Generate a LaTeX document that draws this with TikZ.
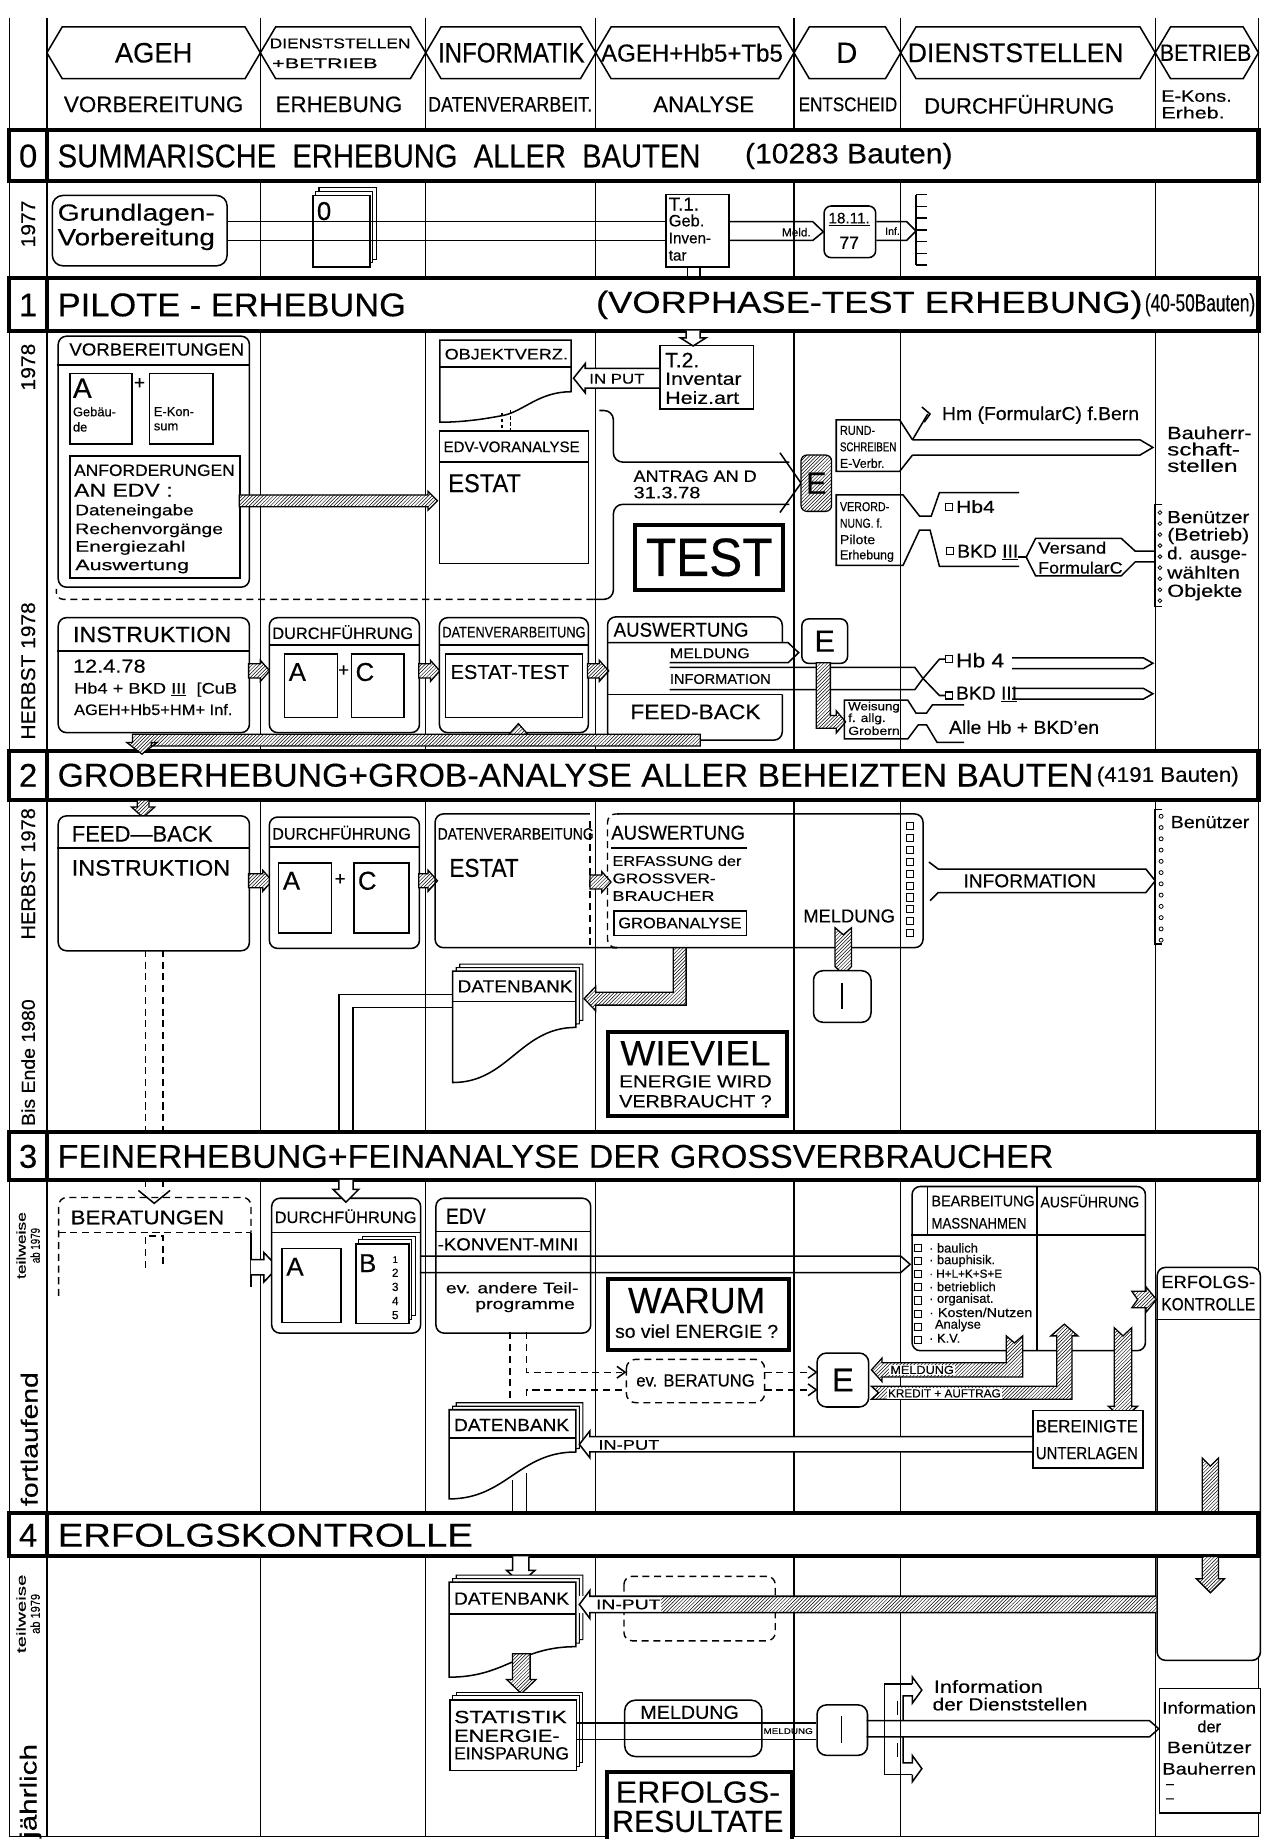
\documentclass[tikz,border=0pt]{standalone}
\usepackage{fontspec}
\setmainfont[FakeBold=0.35]{Liberation Sans}
\usepackage{graphicx}
\usetikzlibrary{patterns,calc}
\newcommand\fs[1]{\fontsize{#1}{#1}\selectfont}
\newcommand\fw[2]{\resizebox{#1pt}{\height}{#2}}
\newcommand\bx[6][box]{\node[#1,minimum width={#4-#2},minimum height={#5-#3}] (#6) at (#2,#3) {};}
\newcommand\stk[5]{%
  \draw[line width=0.9pt,fill=white] ({#1+6},{#2-6}) rectangle ({#3+6},{#4-6});
  \draw[line width=0.9pt,fill=white] ({#1+3},{#2-3}) rectangle ({#3+3},{#4-3});
  \bx{#1}{#2}{#3}{#4}{#5}}
\newcommand\dbk[6]{%
  \foreach \q in {6,3}{\draw[line width=0.9pt,fill=white] ({#1+\q},{#2-\q}) -- ({#3+\q},{#2-\q}) -- ({#3+\q},{#4-\q}) .. controls ({#3-0.45*(#3-#1)+\q},{#4-\q}) and ({#1+0.45*(#3-#1)+\q},{#5-\q}) .. ({#1+\q},{#5-\q}) -- cycle;}
  \draw[line width=1.3pt,fill=white] (#1,#2) -- (#3,#2) -- (#3,#4) .. controls ({#3-0.45*(#3-#1)},#4) and ({#1+0.45*(#3-#1)},#5) .. (#1,#5) -- cycle;
  \coordinate (#6) at (#1,#2);}
\newcommand\harr[4]{\draw[hatch] (#1,{#3-#4}) -- ({#2-8},{#3-#4}) -- ({#2-8},{#3-#4-3}) -- (#2,#3) -- ({#2-8},{#3+#4+3}) -- ({#2-8},{#3+#4}) -- (#1,{#3+#4}) -- cycle;}
\newcommand\chan[4]{\draw[bl] (#1,#3) -- ({#2-8},#3) -- (#2,{(#3+#4)/2}) -- ({#2-8},#4) -- (#1,#4);}
\begin{document}
\begin{tikzpicture}[x=1pt,y=-1pt,
  ln/.style={line width=1pt},
  bl/.style={line width=1.3pt},
  box/.style={draw,line width=1.3pt,fill=white,inner sep=0pt,anchor=north west},
  rbox/.style={box,rounded corners=7pt},
  tbox/.style={draw,line width=3.4pt,fill=white,inner sep=0pt,anchor=north west},
  txt/.style={inner sep=0pt,anchor=west},
  ctx/.style={inner sep=0pt},
  hatch/.style={draw,line width=1.1pt,preaction={fill=white},pattern=north east lines},
  dsh/.style={line width=1.2pt,dash pattern=on 6pt off 4pt},
  ]
\useasboundingbox (0,0) rectangle (1079,1568);
\fill[white] (0,0) rectangle (1079,1568);
% ---------- grid ----------
\draw[ln] (8,15) -- (8,1566) -- (1073,1566) -- (1073,15);
\draw[ln] (40,15) -- (40,1566);
\foreach \x in {222,363,508,677,768,985} \draw[ln] (\x,15) -- (\x,1566);
% ---------- header ----------
\foreach \a/\b in {40/222,222/363,363/508,508/677,677/768,768/985,985/1073}
  \draw[bl,fill=white] (\a,45) -- ({\a+13},23) -- ({\b-13},23) -- (\b,45) -- ({\b-13},67) -- ({\a+13},67) -- cycle;
\node[ctx] (hA) at (131,45) {\fs{24}\fw{66}{AGEH}};
\node[ctx] (hB1) at (290,37) {\fs{12}\fw{120}{DIENSTSTELLEN}};
\node[ctx] (hB2) at (277,54) {\fs{12}\fw{90}{+BETRIEB}};
\node[ctx] (hC) at (436,45) {\fs{24}\fw{125}{INFORMATIK}};
\node[ctx] (hD) at (590,45) {\fs{21}\fw{155}{AGEH+Hb5+Tb5}};
\node[ctx] (hE) at (722,45) {\fs{25}D};
\node[ctx] (hF) at (866,45) {\fs{23}\fw{184}{DIENSTSTELLEN}};
\node[ctx] (hG) at (1028,45) {\fs{20}\fw{78}{BETRIEB}};
\node[ctx] (s1) at (131,89) {\fs{19}\fw{153}{VORBEREITUNG}};
\node[ctx] (s2) at (289,89) {\fs{19}\fw{108}{ERHEBUNG}};
\node[ctx] (s3) at (435,89) {\fs{18}\fw{140}{DATENVERARBEIT.}};
\node[ctx] (s4) at (600,89) {\fs{19}\fw{86}{ANALYSE}};
\node[ctx] (s5) at (723,89) {\fs{17}\fw{84}{ENTSCHEID}};
\node[ctx] (s6) at (869,89) {\fs{19}\fw{162}{DURCHFÜHRUNG}};
\node[txt] (s7) at (990,82) {\fs{14}\fw{60}{E-Kons.}};
\node[txt] (s8) at (990,96) {\fs{14}\fw{54}{Erheb.}};
% ---------- box crossing band 4 ----------
\bx[rbox]{986}{1080}{1074}{1415}{erfk}
\draw[bl] (986,1125) -- (1074,1125);
\node[txt] (erfk1) at (990,1093) {\fs{15}\fw{80}{ERFOLGS-}};
\node[txt] (erfk2) at (990,1112) {\fs{15}\fw{80}{KONTROLLE}};
\draw[hatch] (1025,1243) -- (1032,1250) -- (1039,1243) -- (1039,1290) -- (1025,1290) -- cycle;
% ---------- bands ----------
\foreach \ya/\yb in {111/154,237/282,640/682,965/1006,1290/1327}{
  \draw[line width=3.6pt,fill=white] (8,\ya) rectangle (1073,\yb);
  \draw[line width=3.6pt] (40,\ya) -- (40,\yb);}
\node[ctx] (n0) at (24,133) {\fs{28}0};
\node[ctx] (n1) at (24,260) {\fs{28}1};
\node[ctx] (n2) at (24,661) {\fs{28}2};
\node[ctx] (n3) at (24,986) {\fs{28}3};
\node[ctx] (n4) at (24,1309) {\fs{28}4};
\node[txt] (b0t) at (49,133) {\fs{28}\fw{548}{SUMMARISCHE\ \ ERHEBUNG\ \ ALLER\ \ BAUTEN}};
\node[txt] (b0s) at (635,133) {\fs{24}\fw{177}{(10283 Bauten)}};
\node[txt] (b1t) at (49,260) {\fs{28}\fw{297}{PILOTE - ERHEBUNG}};
\node[txt] (b1r) at (508,260) {\fs{26}\fw{466}{(VORPHASE-TEST ERHEBUNG)}};
\node[txt] (b1s) at (976,260) {\fs{21}\fw{94}{(40-50Bauten)}};
\node[txt] (b2t) at (49,661) {\fs{28}\fw{883}{GROBERHEBUNG+GROB-ANALYSE ALLER BEHEIZTEN BAUTEN}};
\node[txt] (b2s) at (935,662) {\fs{18}\fw{121}{(4191 Bauten)}};
\node[txt] (b3t) at (49,986) {\fs{28}\fw{849}{FEINERHEBUNG+FEINANALYSE DER GROSSVERBRAUCHER}};
\node[txt] (b4t) at (49,1309) {\fs{28}\fw{354}{ERFOLGSKONTROLLE}};
% ---------- year column ----------
\node[ctx,rotate=90] (y1) at (24,191) {\fs{17}\fw{40}{1977}};
\node[ctx,rotate=90] (y2) at (24,313) {\fs{17}\fw{40}{1978}};
\node[ctx,rotate=90] (y3) at (24,572) {\fs{17}\fw{117}{HERBST 1978}};
\node[ctx,rotate=90] (y4) at (24,745) {\fs{17}\fw{112}{HERBST 1978}};
\node[ctx,rotate=90] (y5) at (24,906) {\fs{16}\fw{108}{Bis Ende 1980}};
\node[ctx,rotate=90,align=center] (y6) at (24,1062) {\fs{11}\fw{57}{teilweise}\\\fs{11}\fw{30}{ab 1979}};
\node[ctx,rotate=90] (y7) at (25,1227) {\fs{20}\fw{114}{fortlaufend}};
\node[ctx,rotate=90,align=center] (y8) at (24,1376) {\fs{11}\fw{67}{teilweise}\\\fs{11}\fw{34}{ab 1979}};
\node[ctx,rotate=90] (y9) at (26,1527) {\fs{20}\fw{80}{jährlich}};
% =============== ROW 0 ===============
\bx[rbox,rounded corners=9pt]{44}{166}{193}{226}{grund}
\node[txt] (grund1) at (49,183) {\fs{20}\fw{134}{Grundlagen-}};
\node[txt] (grund2) at (49,204) {\fs{20}\fw{134}{Vorbereitung}};
\stk{266}{166}{315}{227}{box0}
\node[txt] (box0t) at (270,180) {\fs{22}0};
\bx{567}{165}{621}{227}{t1}
\node[txt] (t1a) at (570,174) {\fs{16}T.1.};
\node[txt] (t1b) at (570,188) {\fs{14}Geb.};
\node[txt] (t1c) at (570,203) {\fs{13}Inven-};
\node[txt] (t1d) at (570,218) {\fs{13}tar};
\draw[bl] (grund.east |- 0,189) -- (t1.west |- 0,189);
\draw[bl] (grund.east |- 0,205) -- (t1.west |- 0,205);
\draw[bl] (586,227) -- (586,237); \draw[bl] (597,227) -- (597,237);
\bx[rbox,rounded corners=6pt]{702}{175}{746}{219}{d1811}
\draw[bl] (t1.east |- 0,189) -- (693,189) -- (d1811.west) -- (693,205) -- (t1.east |- 0,205);
\node[ctx] (meld0) at (679,198) {\fs{10}Meld.};
\node[ctx] (d1a) at (724,187) {\fs{13}\underline{18.11.}};
\node[ctx] (d1b) at (724,207) {\fs{15}77};
\draw[bl] (d1811.east |- 0,189) -- (773,189) -- (781,197) -- (773,205) -- (d1811.east |- 0,205);
\node[ctx] (inf0) at (761,197) {\fs{9}Inf.};
\draw[bl] (781,166) -- (781,226);
\foreach \k in {0,...,6} \draw[bl] (781,{166+10*\k}) -- (790,{166+10*\k});
% =============== ROW 1 upper ===============
\bx[rbox]{49}{286}{212}{500}{vorb}
\draw[bl] (vorb.west |- 0,311) -- (vorb.east |- 0,311);
\node[txt] (vorbt) at (59,298) {\fs{15}\fw{149}{VORBEREITUNGEN}};
\bx{59}{318}{112}{378}{boxa}
\node[txt] (boxat) at (62,331) {\fs{24}A};
\node[txt] (boxa1) at (62,351) {\fs{11}Gebäu-};
\node[txt] (boxa2) at (62,364) {\fs{11}de};
\node[ctx] (plus1) at (119,327) {\fs{16}+};
\bx{127}{318}{181}{378}{boxe}
\node[txt] (boxe1) at (131,351) {\fs{11}E-Kon-};
\node[txt] (boxe2) at (131,364) {\fs{11}sum};
\bx{59}{388}{204}{492}{anf}
\node[txt] (anf1) at (63,401) {\fs{14}\fw{137}{ANFORDERUNGEN}};
\node[txt] (anf2) at (63,418) {\fs{16}\fw{84}{AN EDV :}};
\node[txt] (anf3) at (64,436) {\fs{13}\fw{101}{Dateneingabe}};
\node[txt] (anf4) at (64,452) {\fs{13}\fw{126}{Rechenvorgänge}};
\node[txt] (anf5) at (64,467) {\fs{13}\fw{94}{Energiezahl}};
\node[txt] (anf6) at (64,483) {\fs{13}\fw{97}{Auswertung}};
\harr{204}{373}{427}{5}
% OBJEKTVERZ
\draw[bl,fill=white] (375,290) -- (487,290) -- (487,334) .. controls (460,334) and (447,350) .. (430,354) .. controls (410,358) and (392,360) .. (375,360) -- cycle;
\coordinate (objv) at (431,290);
\draw[bl] (375,313) -- (487,313);
\node[txt] (objt) at (379,302) {\fs{13}\fw{105}{OBJEKTVERZ.}};
\draw[line width=0.9pt,dash pattern=on 3pt off 2pt] (428,352) -- (428,367);
\draw[line width=0.9pt,dash pattern=on 3pt off 2pt] (435,350) -- (435,367);
\bx{374}{367}{501}{480}{edvv}
\draw[bl] (edvv.west |- 0,394) -- (edvv.east |- 0,394);
\node[txt] (edvv1) at (378,381) {\fs{13}\fw{116}{EDV-VORANALYSE}};
\node[txt] (edvv2) at (382,412) {\fs{22}\fw{62}{ESTAT}};
% T.2 and input
\bx{562}{294}{642}{348}{t2}
\node[txt] (t2a) at (567,307) {\fs{18}T.2.};
\node[txt] (t2b) at (567,323) {\fs{15}\fw{65}{Inventar}};
\node[txt] (t2c) at (567,339) {\fs{15}\fw{63}{Heiz.art}};
\draw[bl,fill=white] (585,282) -- (585,288) -- (580,288) -- (591,295) -- (602,288) -- (597,288) -- (597,282);
\draw[bl,fill=white] (t2.west |- 0,314) -- (499,314) -- (499,310) -- (489,322.5) -- (499,335) -- (499,331) -- (t2.west |- 0,331);
\node[ctx] (inputt) at (526,323) {\fs{12}\fw{47}{IN PUT}};
% bracket / Antrag
\draw[bl,rounded corners=8pt] (511,350) -- (523,350) -- (523,394) -- (673,394);
\draw[bl,rounded corners=8pt] (673,430) -- (523,430) -- (523,511) -- (506,511);
\draw[dsh,rounded corners=6pt] (506,511) -- (48,511) -- (48,502);
\draw[bl] (665,386) -- (683,412) -- (665,437);
\draw[hatch,rounded corners=5pt] (683,388) rectangle (709,436);
\node[ctx] (e1) at (696,412) {\fs{26}E};
\node[txt] (antr1) at (540,406) {\fs{14}\fw{105}{ANTRAG AN D}};
\node[txt] (antr2) at (540,420) {\fs{14}\fw{57}{31.3.78}};
\bx[tbox]{540}{446}{666}{501}{test}
\node[ctx] (testt) at (test.center) {\fs{46}\fw{108}{TEST}};
% Rundschreiben
\draw[bl] (778,375) -- (767,358) -- (713,358) -- (713,402) -- (767,402) -- (778,388);
\draw[bl] (778,375) -- (972,375) -- (983,381.5) -- (972,388) -- (778,388);
\node[txt] (rs1) at (716,367) {\fs{11}\fw{30}{RUND-}};
\node[txt] (rs2) at (716,381) {\fs{11}\fw{48}{SCHREIBEN}};
\node[txt] (rs3) at (716,395) {\fs{11}\fw{38}{E-Verbr.}};
\draw[bl] (778,375) -- (791,353);
\draw[bl] (786,347) -- (793,353) -- (788,360);
\node[txt] (hm) at (803,354) {\fs{16}\fw{168}{Hm (FormularC) f.Bern}};
\node[txt] (bh1) at (995,369) {\fs{15}\fw{72}{Bauherr-}};
\node[txt] (bh2) at (995,383) {\fs{15}\fw{62}{schaft-}};
\node[txt] (bh3) at (995,397) {\fs{15}\fw{60}{stellen}};
% Verordnung
\draw[bl] (869,420) -- (801,420) -- (794,440) -- (784,440) -- (770,422) -- (713,422) -- (713,482) -- (770,482) -- (784,452) -- (793,452) -- (801,483) -- (869,483);
\node[txt] (vo1) at (716,432) {\fs{11}\fw{42}{VERORD-}};
\node[txt] (vo2) at (716,446) {\fs{11}\fw{36}{NUNG. f.}};
\node[txt] (vo3) at (716,460) {\fs{11}\fw{30}{Pilote}};
\node[txt] (vo4) at (716,474) {\fs{11}\fw{46}{Erhebung}};
\draw[line width=0.9pt,fill=white] (806,429) rectangle (812,435);
\node[txt] (hb4a) at (815,432) {\fs{15}\fw{33}{Hb4}};
\draw[line width=0.9pt,fill=white] (807,467) rectangle (813,473);
\node[txt] (bkda) at (816,471) {\fs{16}\fw{52}{BKD \underline{III}}};
\draw[bl] (868,475) -- (875,475);
\draw[bl] (984,470) -- (968,470) -- (956,459) -- (883,459) -- (875,475) -- (883,491) -- (956,491) -- (968,479) -- (984,479);
\node[txt] (vs1) at (885,467) {\fs{14}\fw{58}{Versand}};
\node[txt] (vs2) at (885,484) {\fs{14}\fw{72}{FormularC}};
\draw[bl] (991,430) -- (985,430) -- (985,517) -- (991,517);
\foreach \k in {0,...,8} \draw[line width=0.7pt] (989,{437+9.4*\k}) circle[radius=1.6pt];
\node[txt] (bn1) at (995,441) {\fs{15}\fw{70}{Benützer}};
\node[txt] (bn2) at (995,457) {\fs{15}\fw{70}{(Betrieb)}};
\node[txt] (bn3) at (995,473) {\fs{15}\fw{68}{d. ausge-}};
\node[txt] (bn4) at (995,488) {\fs{15}\fw{62}{wählten}};
\node[txt] (bn5) at (995,505) {\fs{15}\fw{64}{Objekte}};
% =============== ROW 1 lower ===============
\bx[rbox]{49}{526}{212}{624}{instr}
\draw[bl] (instr.west |- 0,555) -- (instr.east |- 0,555);
\node[txt] (instr1) at (62,541) {\fs{19}\fw{135}{INSTRUKTION}};
\node[txt] (instr2) at (62,568) {\fs{16}\fw{62}{12.4.78}};
\node[txt] (instr3) at (63,588) {\fs{13}\fw{139}{Hb4 + BKD \underline{III} \ [CuB}};
\node[txt] (instr4) at (63,605) {\fs{13}\fw{135}{AGEH+Hb5+HM+ Inf.}};
\harr{212}{230}{572}{6}
\bx[rbox]{229}{526}{357}{624}{dur1}
\draw[bl] (dur1.west |- 0,550) -- (dur1.east |- 0,550);
\node[txt] (dur1t) at (232,539) {\fs{14}\fw{120}{DURCHFÜHRUNG}};
\bx{242}{557}{287}{611}{a1}
\node[txt] (a1t) at (246,573) {\fs{22}A};
\node[ctx] (plus2) at (293,572) {\fs{16}+};
\bx{299}{557}{344}{611}{c1}
\node[txt] (c1t) at (303,573) {\fs{22}C};
\harr{357}{375}{572}{6}
\bx[rbox]{374}{526}{501}{624}{dat1}
\draw[bl] (dat1.west |- 0,550) -- (dat1.east |- 0,550);
\node[txt] (dat1t) at (377,539) {\fs{13}\fw{122}{DATENVERARBEITUNG}};
\bx{379}{557}{496}{611}{estt}
\node[txt] (esttt) at (384,573) {\fs{17}\fw{101}{ESTAT-TEST}};
\harr{501}{519}{572}{6}
\draw[bl,rounded corners=7pt] (667,548) -- (667,526) -- (518,526) -- (518,631) -- (667,631) -- (667,592);
\draw[bl] (518,548) -- (672,548) -- (681,556.5) -- (672,565) -- (571,565);
\node[txt] (aus1) at (523,537) {\fs{17}\fw{115}{AUSWERTUNG}};
\node[txt] (aus2) at (571,557) {\fs{12}\fw{68}{MELDUNG}};
\draw[bl] (571,569) -- (780,569) -- (787,578.5) -- (780,588) -- (571,588);
\node[txt] (aus3) at (571,579) {\fs{12}\fw{86}{INFORMATION}};
\draw[bl] (518,592) -- (667,592);
\node[ctx] (aus4) at (593,607) {\fs{18}\fw{111}{FEED-BACK}};
\bx[rbox,rounded corners=6pt]{683}{527}{722}{565}{e2}
\node[ctx] (e2t) at (e2.center) {\fs{26}E};
\draw[hatch] (696,565) -- (708,565) -- (708,610) -- (713,610) -- (713,606) -- (721,615.5) -- (713,625) -- (713,621) -- (696,621) -- cycle;
\draw[bl] (787,578.5) -- (801,562) -- (806,562);
\draw[bl] (787,578.5) -- (801,593) -- (806,593);
\draw[line width=0.9pt,fill=white] (806,559) rectangle (812,565);
\node[txt] (hb4b) at (815,563) {\fs{17}\fw{41}{Hb 4}};
\draw[line width=0.9pt,fill=white] (806,590) rectangle (812,596);
\node[txt] (bkdb) at (815,592) {\fs{16}\fw{52}{BKD \underline{III}}};
\chan{863}{983}{561}{570}
\chan{863}{983}{587}{596}
\draw[bl] (822,601) -- (795,601) -- (790,608) -- (781,608) -- (774,597) -- (720,597) -- (720,630) -- (774,630) -- (783,618) -- (790,618) -- (799,633) -- (822,633);
\node[txt] (we1) at (723,603) {\fs{10}\fw{44}{Weisung}};
\node[txt] (we2) at (723,613) {\fs{10}\fw{32}{f. allg.}};
\node[txt] (we3) at (723,623) {\fs{10}\fw{44}{Grobern}};
\node[txt] (alle) at (809,620) {\fs{16}\fw{128}{Alle Hb + BKD'en}};
% feedback bar
\draw[hatch] (597,626) -- (113,626) -- (113,633) -- (108,633) -- (121,643) -- (134,633) -- (129,633) -- (129,636) -- (597,636) -- cycle;
\draw[hatch] (434,626) -- (442,617) -- (450,626) -- cycle;
\draw[hatch] (117,682) -- (127,682) -- (127,688) -- (132,688) -- (122,697) -- (112,688) -- (117,688) -- cycle;
% =============== ROW 2 ===============
\bx[rbox]{49}{695}{212}{810}{fb}
\draw[bl] (fb.west |- 0,723) -- (fb.east |- 0,723);
\node[txt] (fb1) at (61,711) {\fs{19}\fw{120}{FEED—BACK}};
\node[txt] (fb2) at (61,740) {\fs{19}\fw{135}{INSTRUKTION}};
\harr{212}{232}{751}{6}
\bx[rbox]{229}{696}{357}{808}{dur2}
\draw[bl] (dur2.west |- 0,722) -- (dur2.east |- 0,722);
\node[txt] (dur2t) at (232,710) {\fs{14}\fw{118}{DURCHFÜHRUNG}};
\bx{237}{735}{282}{795}{a2}
\node[txt] (a2t) at (241,751) {\fs{22}A};
\node[ctx] (plus3) at (290,750) {\fs{16}+};
\bx{301}{735}{348}{795}{c2}
\node[txt] (c2t) at (305,751) {\fs{22}C};
\harr{357}{373}{751}{6}
\draw[bl,rounded corners=7pt] (503,694) -- (371,694) -- (371,808) -- (526,808);
\draw[dsh] (503,700) -- (503,806);
\draw[bl,rounded corners=7pt] (522,808) -- (787,808) -- (787,694) -- (526,694);
\draw[dsh,rounded corners=7pt] (528,694) -- (518,694) -- (518,808) -- (528,808);
\node[txt] (dat2t) at (373,711) {\fs{14}\fw{133}{DATENVERARBEITUNG}};
\node[txt] (dat2e) at (383,740) {\fs{22}\fw{59}{ESTAT}};
\harr{503}{521}{752}{6}
\node[txt] (aus21) at (521,710) {\fs{17}\fw{114}{AUSWERTUNG}};
\draw[bl] (521,723) -- (637,723);
\node[txt] (aus22) at (522,734) {\fs{12}\fw{110}{ERFASSUNG der}};
\node[txt] (aus23) at (522,749) {\fs{12}\fw{88}{GROSSVER-}};
\node[txt] (aus24) at (522,764) {\fs{12}\fw{87}{BRAUCHER}};
\bx{523}{776}{636}{797}{groba}
\node[txt] (grobat) at (527,787) {\fs{13}\fw{105}{GROBANALYSE}};
\foreach \k in {0,...,9} \draw[line width=0.8pt] (773,{701+10.2*\k}) rectangle +(6,6);
\node[ctx] (meld2) at (724,781) {\fs{16}\fw{78}{MELDUNG}};
\draw[hatch] (712,791) -- (719,797) -- (726,791) -- (726,824) -- (719,831) -- (712,824) -- cycle;
\bx[rbox,rounded corners=8pt]{693}{827}{742}{871}{i2}
\draw[line width=1.4pt] (718,838) -- (718,860);
\draw[bl] (792,735) -- (800,741) -- (977,741) -- (985,751) -- (977,761) -- (800,761) -- (793,768);
\node[ctx] (info2) at (878,751) {\fs{16}\fw{113}{INFORMATION}};
\draw[bl] (991,690) -- (985,690) -- (985,805) -- (991,805);
\foreach \k in {0,...,11} \draw[line width=0.7pt] (990,{696+9.6*\k}) circle[radius=1.7pt];
\node[txt] (ben2) at (998,701) {\fs{15}\fw{67}{Benützer}};
\draw[hatch] (574,808) -- (585,808) -- (585,857) -- (508,857) -- (508,862) -- (498,851.5) -- (508,841) -- (508,846) -- (574,846) -- cycle;
\dbk{386}{828}{491}{876}{923}{db2}
\draw[bl] (386,854) -- (491,854);
\node[txt] (db2t) at (390,841) {\fs{15}\fw{98}{DATENBANK}};
\draw[bl] (386,848) -- (289,848) -- (289,965);
\draw[bl] (386,859) -- (301,859) -- (301,965);
\bx[tbox]{517}{878}{669}{950}{wiev}
\node[ctx] (wiev1) at (593,898) {\fs{30}\fw{128}{WIEVIEL}};
\node[ctx] (wiev2) at (593,922) {\fs{15}\fw{130}{ENERGIE WIRD}};
\node[ctx] (wiev3) at (593,939) {\fs{15}\fw{130}{VERBRAUCHT ?}};
\draw[dsh] (124,810) -- (124,965);
\draw[dsh] (139,810) -- (139,965);
% =============== ROW 3 ===============
\draw[dsh] (124,1006) -- (124,1016);
\draw[dsh] (139,1006) -- (139,1016);
\draw[bl] (118,1015) -- (131.5,1026) -- (145,1015);
\draw[dsh,rounded corners=7pt] (50,1105) -- (50,1021) -- (214,1021) -- (214,1051);
\draw[dsh] (50,1051) -- (214,1051);
\draw[bl] (214,1051) -- (214,1097);
\draw[dsh] (124,1081) -- (124,1054) -- (139,1054) -- (139,1081);
\node[txt] (berat) at (60,1038) {\fs{17}\fw{131}{BERATUNGEN}};
\draw[bl,fill=white] (214,1074) -- (225,1074) -- (225,1068) -- (237,1080.5) -- (225,1093) -- (225,1087) -- (214,1087);
\bx[rbox]{231}{1021}{358}{1136}{dur3}
\draw[bl] (dur3.west |- 0,1051) -- (dur3.east |- 0,1051);
\node[txt] (dur3t) at (234,1037) {\fs{14}\fw{121}{DURCHFÜHRUNG}};
\draw[bl,fill=white] (289,1006) -- (289,1014) -- (284,1014) -- (295,1025) -- (306,1014) -- (301,1014) -- (301,1006);
\bx{240}{1064}{290}{1127}{a3}
\node[txt] (a3t) at (244,1080) {\fs{22}A};
\stk{303}{1060}{348}{1128}{b3}
\node[txt] (b3t) at (306,1077) {\fs{22}B};
\node[ctx,align=center] (b3n) at (337,1098) {\fontsize{8}{10.5}\selectfont 1\\2\\3\\4\\5};
\bx[rbox]{371}{1021}{503}{1136}{edv}
\draw[bl] (edv.west |- 0,1050) -- (edv.east |- 0,1050);
\node[txt] (edv1) at (380,1037) {\fs{19}\fw{34}{EDV}};
\node[txt] (edv2) at (373,1061) {\fs{15}\fw{120}{-KONVENT-MINI}};
\node[txt] (edv3) at (380,1098) {\fs{13}\fw{113}{ev. andere Teil-}};
\node[txt] (edv4) at (405,1114) {\fs{13}\fw{85}{programme}};
\draw[bl] (358,1071) -- (768,1071) -- (776,1078) -- (768,1085) -- (358,1085);
\bx[tbox]{517}{1089}{671}{1149}{warum}
\node[ctx] (warum1) at (594,1109) {\fs{31}\fw{117}{WARUM}};
\node[ctx] (warum2) at (594,1135) {\fs{16}\fw{139}{so viel ENERGIE ?}};
\draw[dsh] (435,1136) -- (435,1193);
\draw[dsh] (449,1136) -- (449,1170) -- (530,1170);
\draw[dsh] (530,1185) -- (449,1185) -- (449,1193);
\draw[bl] (526,1165) -- (533,1170) -- (526,1175);
\draw[dsh,rounded corners=8pt] (534,1159) rectangle (652,1196);
\node[ctx] (evber) at (593,1177) {\fs{15}\fw{101}{ev. BERATUNG}};
\draw[dsh] (652,1170) -- (692,1170);
\draw[dsh] (652,1185) -- (692,1185);
\draw[bl] (689,1165) -- (696,1170) -- (689,1175);
\draw[bl] (689,1180) -- (696,1185) -- (689,1190);
\bx[rbox,rounded corners=8pt]{696}{1153}{740}{1199}{e3}
\node[ctx] (e3t) at (e3.center) {\fs{28}E};
\bx[rbox]{777}{1011}{976}{1151}{bearb}
\draw[bl] (791,1011) -- (791,1053);
\draw[bl] (777,1053) -- (976,1053);
\draw[bl] (884,1011) -- (884,1151);
\node[txt] (bea1) at (794,1024) {\fs{13}\fw{88}{BEARBEITUNG}};
\node[txt] (bea2) at (794,1043) {\fs{13}\fw{81}{MASSNAHMEN}};
\node[txt] (bea3) at (887,1024) {\fs{13}\fw{84}{AUSFÜHRUNG}};
\foreach \k in {0,...,7} \draw[line width=0.8pt] (780,{1061+11.2*\k}) rectangle +(6,6);
\node[txt] (li1) at (792,1064) {\fs{11}· baulich};
\node[txt] (li2) at (792,1075) {\fs{11}· bauphisik.};
\node[txt] (li3) at (792,1086) {\fs{10}· H+L+K+S+E};
\node[txt] (li4) at (792,1097) {\fs{11}· betrieblich};
\node[txt] (li5) at (792,1108) {\fs{11}· organisat.};
\node[txt] (li6) at (792,1119) {\fs{11}\fw{88}{· Kosten/Nutzen}};
\node[txt] (li7) at (797,1130) {\fs{11}Analyse};
\node[txt] (li8) at (792,1141) {\fs{11}· K.V.};
\draw[hatch] (858,1139) -- (865,1145) -- (872,1139) -- (872,1174) -- (752,1174) -- (752,1178) -- (743,1168) -- (752,1158) -- (752,1162) -- (858,1162) -- cycle;
\node[txt,fill=white,inner sep=1pt] (meld3) at (758,1168) {\fs{10}\fw{54}{MELDUNG}};
\draw[hatch] (743,1182) -- (901,1182) -- (901,1139) -- (896,1139) -- (907.5,1129) -- (919,1139) -- (914,1139) -- (914,1193) -- (743,1193) -- (749,1187.5) -- cycle;
\node[txt,fill=white,inner sep=1pt] (kred) at (756,1188) {\fs{10}\fw{96}{KREDIT + AUFTRAG}};
\draw[hatch] (950,1132) -- (957.5,1139) -- (965,1132) -- (965,1199) -- (970,1199) -- (957.5,1210) -- (945,1199) -- (950,1199) -- cycle;
\draw[hatch] (965,1101) -- (977,1101) -- (977,1097) -- (986,1108) -- (977,1119) -- (977,1115) -- (965,1115) -- (970,1108) -- cycle;
\bx{880}{1202}{974}{1251}{ber}
\node[txt] (ber1) at (883,1216) {\fs{15}\fw{87}{BEREINIGTE}};
\node[txt] (ber2) at (883,1239) {\fs{15}\fw{87}{UNTERLAGEN}};
\dbk{383}{1202}{491}{1238}{1278}{db3}
\draw[bl] (383,1226) -- (491,1226);
\node[txt] (db3t) at (387,1215) {\fs{15}\fw{98}{DATENBANK}};
\draw[bl,fill=white] (ber.west |- 0,1225) -- (503,1225) -- (503,1220) -- (494,1231.5) -- (503,1243) -- (503,1238) -- (ber.west |- 0,1238);
\node[txt] (inp3) at (510,1232) {\fs{12}\fw{52}{IN-PUT}};
\draw[bl] (437,1262) -- (437,1290);
\draw[bl] (449,1256) -- (449,1290);
% =============== ROW 4 ===============
\draw[hatch] (1025,1327) -- (1039,1327) -- (1039,1346) -- (1044,1346) -- (1032,1358) -- (1020,1346) -- (1025,1346) -- cycle;
\draw[bl,fill=white] (437,1327) -- (437,1339) -- (432,1339) -- (444,1350) -- (456,1339) -- (451,1339) -- (451,1327);
\dbk{383}{1349}{491}{1404}{1430}{db4}
\draw[bl] (383,1376) -- (491,1376);
\node[txt] (db4t) at (387,1363) {\fs{15}\fw{98}{DATENBANK}};
\draw[dsh,rounded corners=7pt] (532,1344) rectangle (661,1399);
\fill[white] (494,1361) rectangle (986,1375);
\fill[pattern=north east lines] (564,1361) rectangle (986,1375);
\draw[bl] (986,1361) -- (503,1361) -- (503,1356) -- (494,1368) -- (503,1380) -- (503,1375) -- (986,1375);
\node[txt] (inp4) at (508,1368) {\fs{12}\fw{55}{IN-PUT}};
\draw[hatch] (437,1410) -- (452,1410) -- (452,1432) -- (457,1432) -- (444.5,1444) -- (432,1432) -- (437,1432) -- cycle;
\stk{383}{1449}{491}{1509}{stat}
\node[txt] (stat1) at (387,1464) {\fs{15}\fw{96}{STATISTIK}};
\node[txt] (stat2) at (387,1480) {\fs{15}\fw{90}{ENERGIE-}};
\node[txt] (stat3) at (387,1495) {\fs{15}\fw{98}{EINSPARUNG}};
\bx[rbox,rounded corners=9pt]{532}{1449}{649}{1497}{meld4}
\node[ctx] (meld4t) at (588,1460) {\fs{16}\fw{84}{MELDUNG}};
\bx[rbox,rounded corners=8pt]{696}{1453}{739}{1496}{i4}
\draw[line width=1.4pt] (717.5,1463) -- (717.5,1486);
\draw[bl] (stat.east |- 0,1469) -- (i4.west |- 0,1469);
\draw[bl] (stat.east |- 0,1483) -- (i4.west |- 0,1483);
\node[ctx] (meld4s) at (672,1476) {\fs{7}\fw{42}{MELDUNG}};
\chan{739}{988}{1467}{1481}
\draw[bl] (778,1436) -- (754,1436) -- (754,1513) -- (778,1513);
\draw[bl] (778,1436) -- (778,1430) -- (786,1441) -- (778,1452) -- (778,1446) -- (770,1446) -- (770,1467);
\draw[bl] (770,1481) -- (770,1503) -- (778,1503) -- (778,1497) -- (786,1508) -- (778,1519) -- (778,1513);
\draw[line width=0.8pt] (765,1450) -- (765,1462);
\draw[line width=0.8pt] (765,1486) -- (765,1498);
\node[txt] (ids1) at (796,1438) {\fs{15}\fw{93}{Information}};
\node[txt] (ids2) at (795,1453) {\fs{15}\fw{132}{der Dienststellen}};
\bx{988}{1439}{1074}{1545}{infb}
\node[ctx] (infb1) at (1031,1456) {\fs{14}\fw{80}{Information}};
\node[ctx] (infb2) at (1031,1472) {\fs{14}der};
\node[ctx] (infb3) at (1031,1490) {\fs{14}\fw{72}{Benützer}};
\node[ctx] (infb4) at (1031,1508) {\fs{14}\fw{80}{Bauherren}};
\node[txt] (infb5) at (994,1523) {\fs{12}–};
\node[txt] (infb6) at (994,1535) {\fs{12}–};
\bx[tbox]{516}{1509}{674}{1568}{eres}
\node[ctx] (eres1) at (595,1528) {\fs{26}\fw{140}{ERFOLGS-}};
\node[ctx] (eres2) at (595,1553) {\fs{26}\fw{146}{RESULTATE}};
\end{tikzpicture}
\end{document}
